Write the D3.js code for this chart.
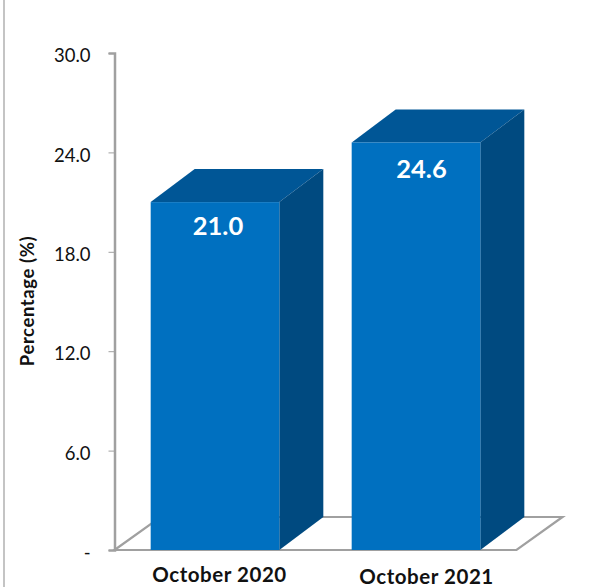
<!DOCTYPE html>
<html><head><meta charset="utf-8">
<script src="https://cdn.jsdelivr.net/npm/d3@7"></script>
<style>html,body{margin:0;padding:0;background:#fff}svg{display:block}text{font-family:Lato,"Open Sans",sans-serif}</style>
</head><body><svg id="c" width="591" height="587"></svg>
<script>
const categories = ["October 2020", "October 2021"];
const values = [21.0, 24.6];
const yTicks = [0, 6, 12, 18, 24, 30];
const yTitle = "Percentage (%)";

const depthX = 44, depthY = 33;
const svg = d3.select("#c");
const x = d3.scaleBand().domain(categories).range([114.5, 516.5]).paddingInner(0.36).paddingOuter(0.18);
const y = d3.scaleLinear().domain([0, 30]).range([550, 53]);
const grey = "#a0a0a0";
const bodyFont = "Lato,'Open Sans',sans-serif";

// page frame line
svg.append("line").attr("x1",4).attr("x2",4).attr("y1",0).attr("y2",587).attr("stroke","#b0b0b0").attr("stroke-width",1.5);

// floor
const [fx0, fx1] = x.range(), fy = y(0);
svg.append("path")
  .attr("d", `M${fx0},${fy}L${fx0+depthX+2},${fy-depthY}L${fx1+depthX+2},${fy-depthY}L${fx1},${fy}Z`)
  .attr("fill","#fff").attr("stroke",grey).attr("stroke-width",2.2);

// y axis
const gy = svg.append("g").attr("transform",`translate(${fx0},0)`)
  .call(d3.axisLeft(y).tickValues(yTicks).tickSize(6).tickPadding(18).tickFormat(d => d === 0 ? "-" : d3.format(".1f")(d)));
gy.select(".domain").attr("stroke",grey).attr("stroke-width",2.5);
gy.selectAll(".tick line").attr("stroke",grey).attr("stroke-width",1);
gy.selectAll(".tick text").attr("font-size",18.5).attr("fill","#111").attr("dy","0.47em").style("font-family",bodyFont);

// bars
const labelDx = [3, 5.5], labelDy = [33, 35.5];
const bars = svg.selectAll("g.bar").data(categories.map((c,i)=>({c,v:values[i],i}))).join("g").attr("class","bar");
bars.append("path").attr("fill","#005696")
  .attr("d",d=>{const a=x(d.c),b=a+x.bandwidth(),t=y(d.v);return `M${a},${t}L${a+depthX},${t-depthY}L${b+depthX},${t-depthY}L${b},${t}Z`;});
bars.append("path").attr("fill","#004a80")
  .attr("d",d=>{const b=x(d.c)+x.bandwidth(),t=y(d.v);return `M${b},${t}L${b+depthX},${t-depthY}L${b+depthX},${fy-depthY}L${b},${fy}Z`;});
bars.append("rect").attr("fill","#0070c0")
  .attr("x",d=>x(d.c)).attr("y",d=>y(d.v)).attr("width",x.bandwidth()).attr("height",d=>fy-y(d.v));
bars.append("text").attr("x",d=>x(d.c)+x.bandwidth()/2+labelDx[d.i]).attr("y",d=>y(d.v)+labelDy[d.i])
  .attr("text-anchor","middle").attr("fill","#fff").attr("font-size",25.5).attr("font-weight",700)
  .text(d=>d3.format(".1f")(d.v));

// category labels
const gx = svg.append("g").attr("transform",`translate(0,${fy})`)
  .call(d3.axisBottom(x).tickSize(0).tickPadding(17));
gx.select(".domain").remove();
gx.selectAll(".tick text").attr("font-size",20.5).attr("font-weight",700).attr("fill","#111")
  .attr("letter-spacing",0.55).style("font-family",bodyFont)
  .attr("dx",(d,i)=>i===0?4.5:10.5).attr("dy",(d,i)=>i===0?"0.71em":"0.82em");

// y title
svg.append("text").attr("transform","translate(34,301) rotate(-90)").attr("text-anchor","middle")
  .attr("font-size",18.5).attr("font-weight",700).attr("letter-spacing",0.6).attr("fill","#111").text(yTitle);
</script></body></html>
